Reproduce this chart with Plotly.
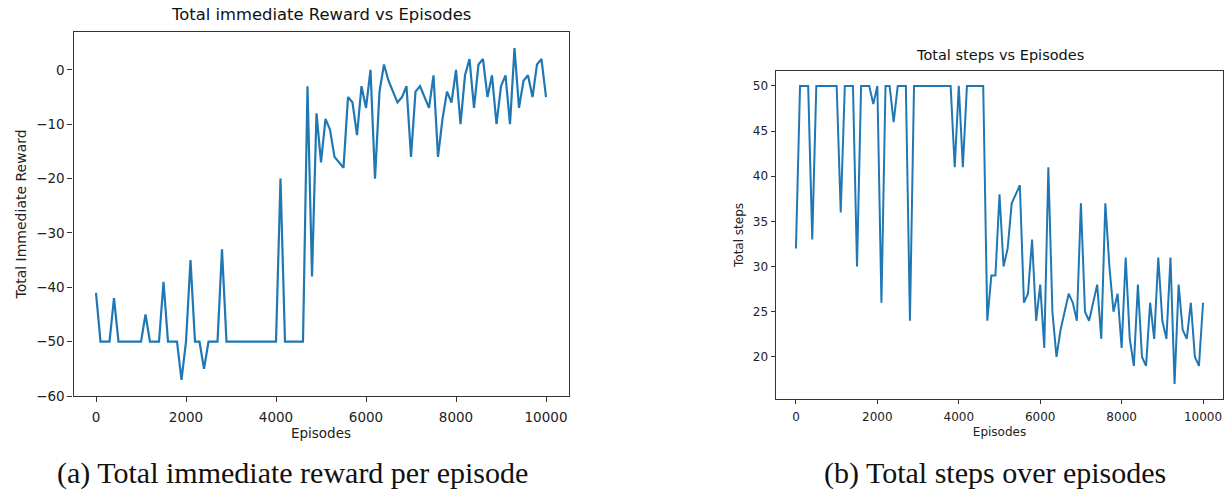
import plotly.graph_objects as go

# ---------------- data ----------------
episodes = list(range(0, 10001, 100))

total_reward = [
    -41, -50, -50, -50, -42, -50, -50, -50, -50, -50,
    -50, -45, -50, -50, -50, -39, -50, -50, -50, -57,
    -50, -35, -50, -50, -55, -50, -50, -50, -33, -50,
    -50, -50, -50, -50, -50, -50, -50, -50, -50, -50,
    -50, -20, -50, -50, -50, -50, -50, -3, -38, -8,
    -17, -9, -11, -16, -17, -18, -5, -6, -12, -3,
    -7, 0, -20, -4, 1, -2, -4, -6, -5, -3,
    -16, -4, -3, -5, -7, -1, -16, -9, -4, -6,
    0, -10, -1, 2, -7, 1, 2, -5, -1, -10,
    -3, -1, -10, 4, -7, -2, -1, -5, 1, 2,
    -5,
]

total_steps = [
    32, 50, 50, 50, 33, 50, 50, 50, 50, 50,
    50, 36, 50, 50, 50, 30, 50, 50, 50, 48,
    50, 26, 50, 50, 46, 50, 50, 50, 24, 50,
    50, 50, 50, 50, 50, 50, 50, 50, 50, 41,
    50, 41, 50, 50, 50, 50, 50, 24, 29, 29,
    38, 30, 32, 37, 38, 39, 26, 27, 33, 24,
    28, 21, 41, 25, 20, 23, 25, 27, 26, 24,
    37, 25, 24, 26, 28, 22, 37, 30, 25, 27,
    21, 31, 22, 19, 28, 20, 19, 26, 22, 31,
    24, 22, 31, 17, 28, 23, 22, 26, 20, 19,
    26,
]

x_ticks = [0, 2000, 4000, 6000, 8000, 10000]
x_tick_labels = ["0", "2000", "4000", "6000", "8000", "10000"]
reward_ticks = [-60, -50, -40, -30, -20, -10, 0]
reward_tick_labels = ["\u221260", "\u221250", "\u221240", "\u221230", "\u221220", "\u221210", "0"]
steps_ticks = [20, 25, 30, 35, 40, 45, 50]
steps_tick_labels = ["20", "25", "30", "35", "40", "45", "50"]

title_left = "Total immediate Reward vs Episodes"
title_right = "Total steps vs Episodes"
caption_left = "(a) Total immediate reward per episode"
caption_right = "(b) Total steps over episodes"

# ---------------- figure ----------------
W, H = 1227, 498
LINE = "#1f77b4"
SANS = "DejaVu Sans"
SERIF = "Liberation Serif"


def px_x(p):
    return p / W


def px_y(p):
    return (H - p) / H


fig = go.Figure()
fig.add_trace(go.Scatter(x=episodes, y=total_reward, mode="lines",
                         line=dict(color=LINE, width=2.2), xaxis="x", yaxis="y",
                         showlegend=False))
fig.add_trace(go.Scatter(x=episodes, y=total_steps, mode="lines",
                         line=dict(color=LINE, width=2.0), xaxis="x2", yaxis="y2",
                         showlegend=False))

common = dict(showline=True, mirror=True, linecolor="#333333", linewidth=1.2,
              ticks="outside", tickcolor="#333333", showgrid=False, zeroline=False)

fig.update_layout(
    width=W, height=H,
    margin=dict(l=0, r=0, t=0, b=0),
    paper_bgcolor="white", plot_bgcolor="white",
    font=dict(family=SANS, color="#222222"),
    xaxis=dict(domain=[px_x(73.5), px_x(568.5)], range=[-500, 10500],
               tickvals=x_ticks, ticktext=x_tick_labels, ticklen=5,
               ticklabelstandoff=3, tickfont=dict(size=13.5),
               title=dict(text="Episodes", font=dict(size=13.5), standoff=4),
               anchor="y", **common),
    yaxis=dict(domain=[px_y(402), px_y(32)], range=[-60.05, 7.05],
               tickvals=reward_ticks, ticktext=reward_tick_labels, ticklen=5,
               tickfont=dict(size=13.5),
               title=dict(text="Total Immediate Reward", font=dict(size=14), standoff=6),
               anchor="x", **common),
    xaxis2=dict(domain=[px_x(775.6), px_x(1223.4)], range=[-500, 10500],
                tickvals=x_ticks, ticktext=x_tick_labels, ticklen=4,
                ticklabelstandoff=3, tickfont=dict(size=12),
                title=dict(text="Episodes", font=dict(size=12), standoff=4),
                anchor="y2", **common),
    yaxis2=dict(domain=[px_y(404.6), px_y(72)], range=[15.35, 51.65],
                tickvals=steps_ticks, ticktext=steps_tick_labels, ticklen=4,
                tickfont=dict(size=12),
                title=dict(text="Total steps", font=dict(size=12), standoff=6),
                anchor="x2", **common),
    annotations=[
        dict(text=title_left, xref="paper", yref="paper", x=px_x(321), y=px_y(26),
             xanchor="center", yanchor="bottom", showarrow=False,
             font=dict(family=SANS, size=16.4, color="#111111")),
        dict(text=title_right, xref="paper", yref="paper", x=px_x(999.5), y=px_y(66),
             xanchor="center", yanchor="bottom", showarrow=False,
             font=dict(family=SANS, size=14.5, color="#111111")),
        dict(text=caption_left, xref="paper", yref="paper", x=px_x(292.5), y=px_y(480),
             xanchor="center", yanchor="middle", showarrow=False,
             font=dict(family=SERIF, size=30, color="#111111")),
        dict(text=caption_right, xref="paper", yref="paper", x=px_x(994.5), y=px_y(480),
             xanchor="center", yanchor="middle", showarrow=False,
             font=dict(family=SERIF, size=30, color="#111111")),
    ],
)

fig.write_html("out.html", config={"displayModeBar": False},
               post_script="document.body.style.margin='0px';document.body.style.overflow='hidden';")
